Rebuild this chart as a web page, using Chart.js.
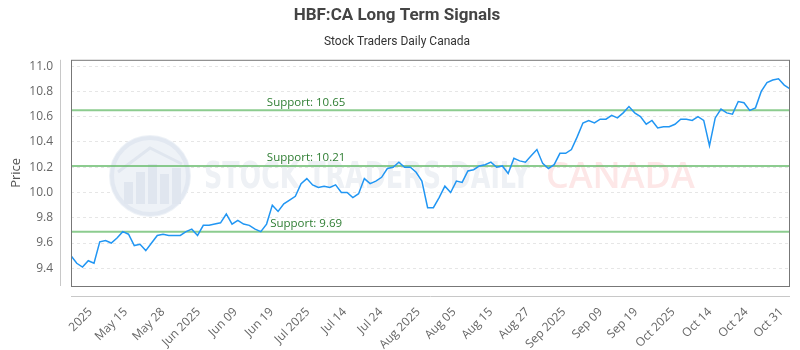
<!DOCTYPE html>
<html>
<head>
  <script src="https://cdn.jsdelivr.net/npm/chart.js"></script>
  <title>HBF:CA Long Term Signals</title>
  <style>body { margin: 0; background: #fff; }</style>
</head>
<body>
  <canvas id="signalChart" width="800" height="350"></canvas>

  <script>
    // closing prices, one per trading session
    const prices = [
      9.50, 9.44, 9.41, 9.46, 9.44, 9.61, 9.62, 9.60, 9.64, 9.69,
      9.67, 9.58, 9.59, 9.54, 9.60, 9.66, 9.67, 9.66, 9.66, 9.66,
      9.69, 9.71, 9.66, 9.74, 9.74, 9.75, 9.76, 9.83, 9.75, 9.78,
      9.75, 9.74, 9.71, 9.69, 9.75, 9.90, 9.85, 9.91, 9.94, 9.97,
      10.07, 10.11, 10.06, 10.04, 10.05, 10.04, 10.06, 10.00, 10.00, 9.96,
      9.99, 10.11, 10.07, 10.09, 10.12, 10.19, 10.20, 10.24, 10.20, 10.20,
      10.16, 10.09, 9.88, 9.88, 9.96, 10.05, 10.00, 10.09, 10.08, 10.17,
      10.18, 10.21, 10.22, 10.24, 10.20, 10.21, 10.15, 10.27, 10.25, 10.24,
      10.29, 10.34, 10.23, 10.19, 10.22, 10.31, 10.31, 10.34, 10.44, 10.55,
      10.57, 10.55, 10.58, 10.58, 10.61, 10.59, 10.63, 10.68, 10.63, 10.60,
      10.54, 10.57, 10.51, 10.52, 10.52, 10.54, 10.58, 10.58, 10.57, 10.60,
      10.57, 10.37, 10.59, 10.66, 10.63, 10.62, 10.72, 10.71, 10.65, 10.67,
      10.80, 10.87, 10.89, 10.90, 10.85, 10.82
    ];

    // x tick labels and where they sit along the session index
    const tickLabels = ['2025', 'May 15', 'May 28', 'Jun 2025', 'Jun 09', 'Jun 19', 'Jul 2025', 'Jul 14',
      'Jul 24', 'Aug 2025', 'Aug 05', 'Aug 15', 'Aug 27', 'Sep 2025', 'Sep 09', 'Sep 19',
      'Oct 2025', 'Oct 14', 'Oct 24', 'Oct 31'];
    const tickSpots = [3.4, 9.5, 16.0, 22.2, 28.6, 34.9, 41.2, 47.6, 53.9, 60.4,
      66.6, 73.0, 79.4, 85.7, 92.1, 98.2, 104.7, 111.1, 117.4, 123.5];

    const yTicks = [9.4, 9.6, 9.8, 10.0, 10.2, 10.4, 10.6, 10.8, 11.0];
    const supports = [10.65, 10.21, 9.69];
    const yMin = 9.26, yMax = 11.05;

    // watermark, support levels and the framed plot area
    const decorations = {
      id: 'decorations',
      beforeDatasetsDraw(chart) {
        const { ctx, chartArea: a, scales: { y } } = chart;
        ctx.save();

        // faint logo + text watermark
        ctx.fillStyle = '#eef2f7';
        ctx.beginPath();
        ctx.arc(150, 176, 41, 0, Math.PI * 2);
        ctx.fill();
        ctx.strokeStyle = '#e2e8f1';
        ctx.lineWidth = 4;
        ctx.beginPath();
        ctx.arc(150, 176, 38, 0, Math.PI * 2);
        ctx.stroke();
        ctx.fillStyle = '#e0e6ef';
        [[124, 182, 9, 22], [136, 172, 9, 32], [148, 164, 9, 40], [160, 174, 9, 30], [172, 168, 9, 36]].forEach(b => {
          ctx.fillRect(b[0], b[1], b[2], b[3]);
        });
        ctx.strokeStyle = '#e0e6ef';
        ctx.lineWidth = 3;
        ctx.beginPath();
        ctx.moveTo(118, 172);
        ctx.lineTo(150, 148);
        ctx.lineTo(182, 164);
        ctx.stroke();

        ctx.textBaseline = 'middle';
        ctx.textAlign = 'left';
        ctx.fillStyle = '#eef1f5';
        ctx.font = 'bold 38px "Liberation Sans Narrow", "DejaVu Sans Condensed", sans-serif';
        ctx.fillText('STOCK TRADERS DAILY', 204, 178, 326);
        ctx.fillStyle = '#fde7e7';
        ctx.font = '600 36px "Open Sans", sans-serif';
        ctx.fillText('CANADA', 546, 178, 155);

        // support lines with their labels
        ctx.font = '11.5px "Open Sans", sans-serif';
        ctx.textAlign = 'center';
        ctx.textBaseline = 'bottom';
        supports.forEach(v => {
          const py = y.getPixelForValue(v);
          ctx.strokeStyle = 'rgba(102, 187, 106, 0.75)';
          ctx.lineWidth = 2;
          ctx.beginPath();
          ctx.moveTo(a.left, py);
          ctx.lineTo(a.right, py);
          ctx.stroke();
          ctx.fillStyle = '#2e7d32';
          ctx.fillText('Support: ' + v.toFixed(2), a.left + a.width * 0.327, py - 2);
        });
        ctx.restore();
      },
      afterDraw(chart) {
        const { ctx, chartArea: a } = chart;
        ctx.save();
        ctx.strokeStyle = '#777';
        ctx.lineWidth = 1;
        ctx.strokeRect(a.left + 0.5, a.top + 0.5, a.width - 1, a.height);
        ctx.strokeStyle = '#c8c8c8';
        ctx.beginPath();
        ctx.moveTo(a.left - 10.5, a.top);
        ctx.lineTo(a.left - 10.5, a.bottom);
        ctx.moveTo(a.left, a.bottom + 10.5);
        ctx.lineTo(a.right, a.bottom + 10.5);
        ctx.stroke();
        ctx.restore();
      }
    };

    const ctx = document.getElementById('signalChart').getContext('2d');
    const chart = new Chart(ctx, {
      type: 'line',
      data: {
        datasets: [{
          label: 'HBF:CA',
          data: prices.map((v, i) => ({ x: i, y: v })),
          borderColor: 'rgb(33, 150, 243)',
          borderWidth: 1.5,
          pointRadius: 0,
          tension: 0
        }]
      },
      options: {
        responsive: false,
        animation: false,
        layout: { padding: { left: 4, right: 10, top: 0, bottom: 0 } },
        plugins: {
          legend: { display: false },
          tooltip: { enabled: false },
          title: {
            display: true,
            text: 'HBF:CA Long Term Signals',
            color: '#444',
            font: { family: 'Roboto', size: 17, weight: 'bold' },
            padding: { top: 6, bottom: 6 }
          },
          subtitle: {
            display: true,
            text: 'Stock Traders Daily Canada',
            color: '#333',
            font: { family: 'Roboto', size: 12 },
            padding: { top: 2, bottom: 11 }
          }
        },
        scales: {
          x: {
            type: 'linear',
            min: 0,
            max: prices.length - 1,
            grid: { display: false, drawTicks: false },
            border: { display: false },
            afterBuildTicks: s => { s.ticks = tickSpots.map(v => ({ value: v })); },
            afterFit: s => { s.height = 64; s.paddingLeft = 0; s.paddingRight = 0; },
            ticks: {
              autoSkip: false,
              maxRotation: 45,
              minRotation: 45,
              padding: 19,
              color: '#666',
              font: { family: 'Open Sans', size: 12 },
              callback: (v, i) => tickLabels[i]
            }
          },
          y: {
            min: yMin,
            max: yMax,
            afterBuildTicks: s => { s.ticks = yTicks.map(v => ({ value: v })); },
            afterFit: s => { s.width = 67; },
            grid: { color: '#e6e6e6', drawTicks: false },
            border: { display: false, dash: [3, 3] },
            title: {
              display: true,
              text: 'Price',
              color: '#555',
              font: { family: 'Open Sans', size: 13 }
            },
            ticks: {
              padding: 18,
              color: '#666',
              font: { family: 'Open Sans', size: 12 },
              callback: v => v.toFixed(1)
            }
          }
        }
      },
      plugins: [decorations]
    });
  </script>
</body>
</html>
